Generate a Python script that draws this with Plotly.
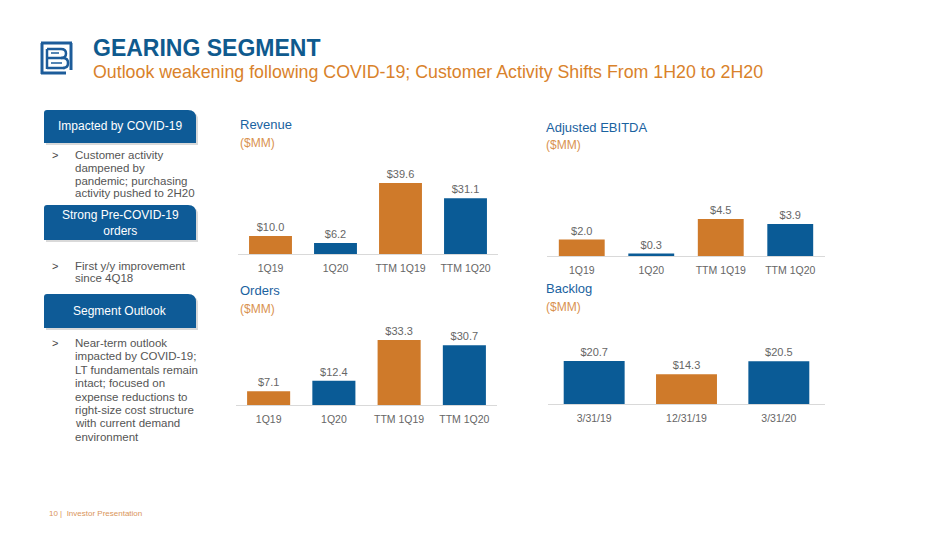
import plotly.graph_objects as go

# chart data
quarters = ["1Q19", "1Q20", "TTM 1Q19", "TTM 1Q20"]
revenue = [10.0, 6.2, 39.6, 31.1]
adj_ebitda = [2.0, 0.3, 4.5, 3.9]
orders = [7.1, 12.4, 33.3, 30.7]
backlog_dates = ["3/31/19", "12/31/19", "3/31/20"]
backlog = [20.7, 14.3, 20.5]

bullet_covid = ["Customer activity", "dampened by", "pandemic; purchasing", "activity pushed to 2H20"]
bullet_orders = ["First y/y improvement", "since 4Q18"]
bullet_outlook = ["Near-term outlook", "impacted by COVID-19;", "LT fundamentals remain",
                  "intact; focused on", "expense reductions to", "right-size cost structure",
                  "with current demand", "environment"]

W, H = 950, 534
ORANGE = "#CF7A2A"
BLUE = "#0A5B96"
GRAY = "#666666"
FONT = "Liberation Sans, Arial, sans-serif"


def px(x):
    return x / W


def py(y):
    return 1 - y / H


fig = go.Figure()

# (x, y, colors, axis id, x range px, baseline px, top px, px per unit)
panels = [
    (quarters, revenue, [ORANGE, BLUE, ORANGE, BLUE], "", (238, 498), 254, 150, 1.79),
    (quarters, adj_ebitda, [ORANGE, BLUE, ORANGE, BLUE], "2", (547, 825), 256, 160, 8.2),
    (quarters, orders, [ORANGE, BLUE, ORANGE, BLUE], "3", (236, 497), 405, 315, 1.95),
    (backlog_dates, backlog, [BLUE, ORANGE, BLUE], "4", (548, 825), 404, 320, 2.08),
]

for cats, vals, cols, ax, (x0, x1), base, top, scale in panels:
    fig.add_trace(go.Bar(
        x=cats, y=vals, marker=dict(color=cols, line=dict(width=0)),
        texttemplate="$%{y:.1f}", textposition="outside", cliponaxis=False,
        textfont=dict(size=11, color=GRAY, family=FONT),
        xaxis="x" + ax, yaxis="y" + ax, showlegend=False, hoverinfo="skip",
    ))
    fig.layout["xaxis" + ax] = dict(
        domain=[px(x0), px(x1)], anchor="y" + ax, showline=True, linecolor="#D9D9D9",
        linewidth=1, ticks="outside", ticklen=4, tickcolor="rgba(0,0,0,0)",
        tickfont=dict(size=10.5, color=GRAY, family=FONT), showgrid=False, fixedrange=True,
    )
    fig.layout["yaxis" + ax] = dict(
        domain=[py(base), py(top)], anchor="x" + ax, range=[0, (base - top) / scale],
        visible=False, showgrid=False, fixedrange=True,
    )

# chart titles
chart_titles = [("Revenue", 238, 124, 143), ("Adjusted EBITDA", 544, 127, 145),
                ("Orders", 238, 290, 309), ("Backlog", 544, 288, 307)]
for t, x, y1, y2 in chart_titles:
    fig.add_annotation(x=px(x), y=py(y1), text=t, showarrow=False, xref="paper", yref="paper",
                       xanchor="left", yanchor="middle", font=dict(size=13, color="#1A62A0", family=FONT))
    fig.add_annotation(x=px(x), y=py(y2), text="($MM)", showarrow=False, xref="paper", yref="paper",
                       xanchor="left", yanchor="middle", font=dict(size=12, color="#D9924F", family=FONT))

# header
fig.add_annotation(x=px(91), y=py(48), text="<b>GEARING SEGMENT</b>", showarrow=False,
                   xref="paper", yref="paper", xanchor="left", yanchor="middle",
                   font=dict(size=23, color="#0F5A8E", family=FONT))
fig.add_annotation(x=px(91), y=py(72), text="Outlook weakening following COVID-19; Customer Activity Shifts From 1H20 to 2H20",
                   showarrow=False, xref="paper", yref="paper", xanchor="left", yanchor="middle",
                   font=dict(size=17.8, color="#D9822B", family=FONT))

shapes = []

# logo, rough
lc = "#1D5C9A"
def seg(xa, ya, xb, yb, w=3):
    return dict(type="line", xref="paper", yref="paper", x0=px(xa), y0=py(ya), x1=px(xb), y1=py(yb),
                line=dict(color=lc, width=w))
shapes += [seg(41, 43, 72, 43), seg(42, 43, 42, 74), seg(41, 73, 66, 73), seg(71, 43, 71, 70),
           seg(47, 49, 47, 69, 2.5), seg(47, 49, 61, 49, 2.5), seg(47, 58, 63, 58, 2.5), seg(47, 68, 65, 68, 2.5),
           seg(51, 53, 59, 53, 1.5), seg(51, 63, 62, 63, 1.5)]
shapes.append(dict(type="path", xref="paper", yref="paper",
                   path=f"M {px(61)},{py(49)} Q {px(66)},{py(49)} {px(66)},{py(53.5)} Q {px(66)},{py(58)} {px(61)},{py(58)}",
                   line=dict(color=lc, width=2.5)))
shapes.append(dict(type="path", xref="paper", yref="paper",
                   path=f"M {px(63)},{py(58)} Q {px(68)},{py(58)} {px(68)},{py(63)} Q {px(68)},{py(68)} {px(63)},{py(68)}",
                   line=dict(color=lc, width=2.5)))


def box(x0, y0, x1, y1, r=8, r2=3):
    path = (f"M {px(x0)},{py(y1)} L {px(x0)},{py(y0 + r2)} Q {px(x0)},{py(y0)} {px(x0 + r2)},{py(y0)} "
            f"L {px(x1 - r)},{py(y0)} Q {px(x1)},{py(y0)} {px(x1)},{py(y0 + r)} L {px(x1)},{py(y1)} Z")
    return path


boxes = [(44, 110, 196, 143, ["Impacted by COVID-19"]),
         (44, 205, 196, 240, ["Strong Pre-COVID-19", "orders"]),
         (44, 294, 196, 328, ["Segment Outlook"])]
for x0, y0, x1, y1, lines in boxes:
    shapes.append(dict(type="path", xref="paper", yref="paper", path=box(x0 + 2, y0 + 2, x1 + 2, y1 + 2),
                       fillcolor="rgba(0,0,0,0.15)", line=dict(width=0), layer="below"))
    shapes.append(dict(type="path", xref="paper", yref="paper", path=box(x0, y0, x1, y1),
                       fillcolor="#0E5B97", line=dict(width=0), layer="below"))
    fig.add_annotation(x=px((x0 + x1) / 2), y=py((y0 + y1) / 2), text="<br>".join(lines), showarrow=False,
                       xref="paper", yref="paper", xanchor="center", yanchor="middle", align="center",
                       font=dict(size=12, color="white", family=FONT))

# bullets
for lines, y_first, step in [(bullet_covid, 155, 12.8), (bullet_orders, 266, 12.4), (bullet_outlook, 343, 13.4)]:
    fig.add_annotation(x=px(50), y=py(y_first), text=">", showarrow=False, xref="paper", yref="paper",
                       xanchor="left", yanchor="middle", font=dict(size=11, color="#444444", family=FONT))
    for i, line in enumerate(lines):
        fig.add_annotation(x=px(73), y=py(y_first + i * step), text=line, showarrow=False,
                           xref="paper", yref="paper", xanchor="left", yanchor="middle",
                           font=dict(size=11.5, color="#555555", family=FONT))

# footer
fig.add_annotation(x=px(47), y=py(513), text="10 |  Investor Presentation", showarrow=False,
                   xref="paper", yref="paper", xanchor="left", yanchor="middle",
                   font=dict(size=8, color="#D9955A", family=FONT))

fig.update_layout(width=W, height=H, margin=dict(l=0, r=0, t=0, b=0),
                  paper_bgcolor="white", plot_bgcolor="white", bargap=0.34,
                  shapes=shapes, font=dict(family=FONT))

# drop the default 8px page margin so the slide sits at 0,0
fig.write_html("out.html", config={"displayModeBar": False},
               post_script="document.body.style.margin = '0';")
